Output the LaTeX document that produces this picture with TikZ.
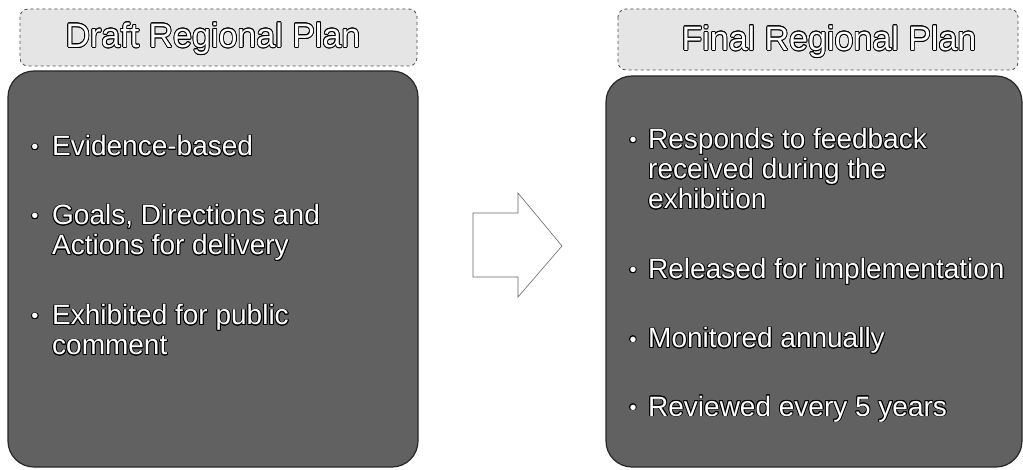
\documentclass[tikz,border=0pt]{standalone}
\usepackage{fontspec}
\setmainfont{Liberation Sans}
\usepackage[copies]{contour}
\contourlength{0.8pt}
\newcommand{\wt}[1]{\contour{black}{\textcolor{white}{#1}}}
\tikzset{
  headbox/.style={draw=black!70, dashed, line width=0.8pt, fill=black!10, rounded corners=8pt},
  bodybox/.style={draw=black!85, line width=1.2pt, fill=black!62, rounded corners=26pt},
  titletxt/.style={font=\fontsize{34}{34}\selectfont, inner sep=0pt},
  itemtxt/.style={font=\fontsize{28}{30}\selectfont, anchor=base west, inner sep=0pt},
  bul/.style={font=\fontsize{20}{20}\selectfont, anchor=base, inner sep=0pt},
  arrowshape/.style={draw=black!60, line width=0.6pt, fill=white, line join=miter}
}
\begin{document}
\begin{tikzpicture}[x=1pt,y=-1pt]
\useasboundingbox (0,0) rectangle (1023,470);
% left
\path[headbox] (20,9) rectangle (417,66);
\node[titletxt] (t1) at (213,39) {\wt{Draft Regional Plan}};
\path[bodybox] (8,71) rectangle (418,467);
\node[bul] (b1) at (35,154) {\wt{•}};
\node[itemtxt] (l1) at (52,156) {\wt{Evidence-based}};
\node[bul] (b2) at (35,223) {\wt{•}};
\node[itemtxt] (l2a) at (52,225) {\wt{Goals, Directions and}};
\node[itemtxt] (l2b) at (52,255) {\wt{Actions for delivery}};
\node[bul] (b3) at (35,323) {\wt{•}};
\node[itemtxt] (l3a) at (52,325) {\wt{Exhibited for public}};
\node[itemtxt] (l3b) at (52,355) {\wt{comment}};
% arrow
\coordinate (a1) at (473,213);
\coordinate (a2) at (518,213);
\coordinate (a3) at (518,193);
\coordinate (a4) at (562,246);
\coordinate (a5) at (518,297);
\coordinate (a6) at (518,277);
\coordinate (a7) at (473,277);
\path[arrowshape] (a1) -- (a2) -- (a3) -- (a4) -- (a5) -- (a6) -- (a7) -- cycle;
% right
\path[headbox] (618,9) rectangle (1018,70);
\node[titletxt] (t2) at (829,42) {\wt{Final Regional Plan}};
\path[bodybox] (606,76) rectangle (1022,467);
\node[bul] (c1) at (633,147) {\wt{•}};
\node[itemtxt] (r1a) at (648,149) {\wt{Responds to feedback}};
\node[itemtxt] (r1b) at (648,179) {\wt{received during the}};
\node[itemtxt] (r1c) at (648,209) {\wt{exhibition}};
\node[bul] (c2) at (633,277) {\wt{•}};
\node[itemtxt] (r2) at (648,279) {\wt{Released for implementation}};
\node[bul] (c3) at (633,346) {\wt{•}};
\node[itemtxt] (r3) at (648,348) {\wt{Monitored annually}};
\node[bul] (c4) at (633,414) {\wt{•}};
\node[itemtxt] (r4) at (648,416) {\wt{Reviewed every 5 years}};
\end{tikzpicture}
\end{document}
